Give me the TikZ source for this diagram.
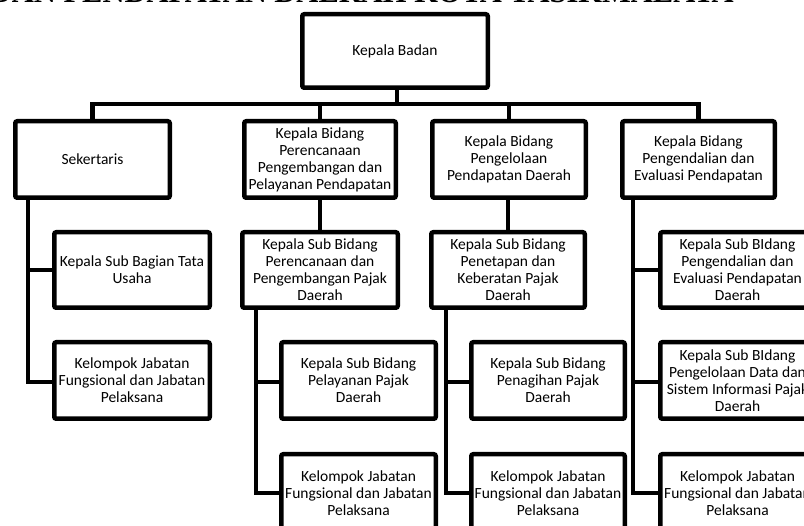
\documentclass[tikz,border=0pt]{standalone}
\usepackage{fontspec}
\setmainfont{Carlito}
\newfontfamily\titlefont{Liberation Serif}
\usetikzlibrary{calc}
\begin{document}
\begin{tikzpicture}[x=1pt,y=-1pt,
  box/.style={draw, line width=4.5pt, rounded corners=2pt, align=center, inner sep=0pt,
    font=\fontsize{15.5}{17}\selectfont},
  conn/.style={draw, line width=4.5pt, line join=miter}]
\useasboundingbox (0,0) rectangle (804,526);
\clip (0,0) rectangle (804,526);
\node[anchor=base east, inner sep=0pt, font=\titlefont\bfseries\fontsize{30.5}{32}\selectfont] (title) at (734,2.5) {BADAN PENDAPATAN DAERAH KOTA TASIKMALAYA};
% level 1
\node[box, minimum width=185.5pt, minimum height=73.5pt] (kb) at (395,51) {Kepala Badan};
% level 2
\node[box, minimum width=154.5pt, minimum height=76.5pt] (sek) at (92.5,159.5) {Sekertaris};
\node[box, minimum width=151.5pt, minimum height=76.5pt] (b1) at (320,159.5) {Kepala Bidang\\Perencanaan\\Pengembangan dan\\Pelayanan Pendapatan};
\node[box, minimum width=153.5pt, minimum height=76.5pt] (b2) at (509,159.5) {Kepala Bidang\\Pengelolaan\\Pendapatan Daerah};
\node[box, minimum width=152.5pt, minimum height=76.5pt] (b3) at (698.5,159.5) {Kepala Bidang\\Pengendalian dan\\Evaluasi Pendapatan};
% column 1
\node[box, minimum width=155.5pt, minimum height=75.5pt] (s11) at (132,270) {Kepala Sub Bagian Tata\\Usaha};
\node[box, minimum width=155.5pt, minimum height=76.5pt] (s12) at (132,380.5) {Kelompok Jabatan\\Fungsional dan Jabatan\\Pelaksana};
% column 2
\node[box, minimum width=155.5pt, minimum height=75.5pt] (s21) at (320,270) {Kepala Sub Bidang\\Perencanaan dan\\Pengembangan Pajak\\Daerah};
\node[box, minimum width=154.5pt, minimum height=76.5pt] (s22) at (358.5,380.5) {Kepala Sub Bidang\\Pelayanan Pajak\\Daerah};
\node[box, minimum width=154.5pt, minimum height=77.5pt] (s23) at (358.5,493) {Kelompok Jabatan\\Fungsional dan Jabatan\\Pelaksana};
% column 3
\node[box, minimum width=153.5pt, minimum height=75.5pt] (s31) at (508,270) {Kepala Sub Bidang\\Penetapan dan\\Keberatan Pajak\\Daerah};
\node[box, minimum width=153.5pt, minimum height=76.5pt] (s32) at (548,380.5) {Kepala Sub Bidang\\Penagihan Pajak\\Daerah};
\node[box, minimum width=153.5pt, minimum height=77.5pt] (s33) at (548,493) {Kelompok Jabatan\\Fungsional dan Jabatan\\Pelaksana};
% column 4
\node[box, minimum width=154.5pt, minimum height=75.5pt] (s41) at (737.5,270) {Kepala Sub BIdang\\Pengendalian dan\\Evaluasi Pendapatan\\Daerah};
\node[box, minimum width=154.5pt, minimum height=76.5pt] (s42) at (737.5,380.5) {Kepala Sub BIdang\\Pengelolaan Data dan\\Sistem Informasi Pajak\\Daerah};
\node[box, minimum width=154.5pt, minimum height=77.5pt] (s43) at (737.5,493) {Kelompok Jabatan\\Fungsional dan Jabatan\\Pelaksana};
% connectors
\coordinate (bus) at (397,104);
\draw[conn] ([xshift=2pt]kb.south) -- ([xshift=2pt]kb.south |- bus);
\draw[conn] (sek.north) -- (sek.north |- bus) -- (b3.north |- bus) -- (b3.north);
\draw[conn] (b1.north) -- (b1.north |- bus);
\draw[conn] (b2.north) -- (b2.north |- bus);
\draw[conn] ([xshift=14.75pt]sek.south west) |- (s11.west);
\draw[conn] ([xshift=14.75pt]sek.south west) |- ([yshift=-1.5pt]s12.west);
\draw[conn] (b1.south) -- (s21.north);
\draw[conn] ([xshift=15.75pt]s21.south west) |- ([yshift=-1.5pt]s22.west);
\draw[conn] ([xshift=15.75pt]s21.south west) |- (s23.west);
\draw[conn] (b2.south -| s31.north) -- (s31.north);
\draw[conn] ([xshift=16.75pt]s31.south west) |- ([yshift=-1.5pt]s32.west);
\draw[conn] ([xshift=16.75pt]s31.south west) |- (s33.west);
\draw[conn] ([xshift=12.75pt]b3.south west) |- (s41.west);
\draw[conn] ([xshift=12.75pt]b3.south west) |- ([yshift=-1.5pt]s42.west);
\draw[conn] ([xshift=12.75pt]b3.south west) |- (s43.west);
\end{tikzpicture}
\end{document}
